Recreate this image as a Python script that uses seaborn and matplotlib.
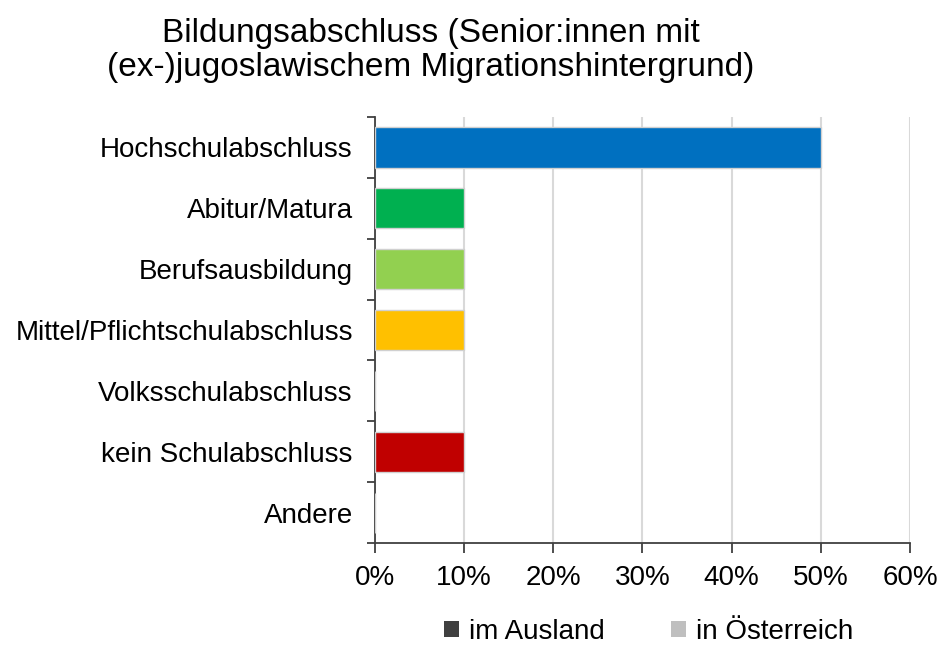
import matplotlib
matplotlib.use("Agg")
import matplotlib.pyplot as plt
import seaborn as sns
import pandas as pd
from matplotlib.patches import Patch
from matplotlib.ticker import FuncFormatter, FixedLocator

kategorien = ["Hochschulabschluss", "Abitur/Matura", "Berufsausbildung",
              "Mittel/Pflichtschulabschluss", "Volksschulabschluss",
              "kein Schulabschluss", "Andere"]
anteile = [50, 10, 10, 10, 0, 10, 0]
farben = ["#0070C0", "#00B050", "#92D050", "#FFC000", "#FFFFFF", "#C00000", "#FFFFFF"]
legende_namen = ["im Ausland", "in Österreich"]
legende_farben = ["#404040", "#BFBFBF"]
x_ticks = [0, 10, 20, 30, 40, 50, 60]

df = pd.DataFrame({"kategorie": kategorien, "anteil": anteile})

sns.set_style("white")
plt.rcParams["font.family"] = ["Liberation Sans", "DejaVu Sans"]
plt.rcParams["text.color"] = "#000000"

fig = plt.figure(figsize=(9.41, 6.46), dpi=100)
ax = fig.add_axes([0.3985, 0.1594, 0.5685, 0.6595])

sns.barplot(data=df, y="kategorie", x="anteil", hue="kategorie",
            palette=dict(zip(kategorien, farben)), legend=False, saturation=1,
            width=0.66, edgecolor="#D0D0D0", linewidth=1, ax=ax, zorder=3)

ax.set_xlim(0, 60)
ax.set_ylim(len(kategorien) - 0.5, -0.5)
ax.xaxis.set_major_locator(FixedLocator(x_ticks))
ax.xaxis.set_major_formatter(FuncFormatter(lambda v, p: f"{v:.0f}%"))
ax.grid(axis="x", color="#D9D9D9", linewidth=1.5, zorder=0)
ax.set_axisbelow(True)

ax.set_yticks(range(len(kategorien)))
ax.set_yticklabels(kategorien)
ax.set_yticks([i - 0.5 for i in range(len(kategorien) + 1)], minor=True)
ax.tick_params(axis="y", which="major", length=0, pad=16, labelsize=20, labelcolor="#000000")
ax.tick_params(axis="y", which="minor", length=6, width=1.3, color="#404040", direction="out", left=True)
ax.tick_params(axis="x", which="major", length=7, width=1.3, color="#404040", direction="out",
               bottom=True, labelsize=20, pad=9, labelcolor="#000000")

for s in ["top", "right"]:
    ax.spines[s].set_visible(False)
for s in ["left", "bottom"]:
    ax.spines[s].set_color("#404040")
    ax.spines[s].set_linewidth(1.3)

ax.set_xlabel("")
ax.set_ylabel("")

fig.text(0.458, 0.972, "Bildungsabschluss (Senior:innen mit\n(ex-)jugoslawischem Migrationshintergrund)",
         ha="center", va="top", fontsize=24, linespacing=1.12, color="#000000")

handles = [Patch(facecolor=c, edgecolor="none") for c in legende_farben]
fig.legend(handles, legende_namen, loc="center", bbox_to_anchor=(0.689, 0.022), ncol=2,
           frameon=False, fontsize=20, handlelength=0.55, handleheight=0.55,
           handletextpad=0.35, columnspacing=2.4)

fig.savefig("out.png", dpi=100)
